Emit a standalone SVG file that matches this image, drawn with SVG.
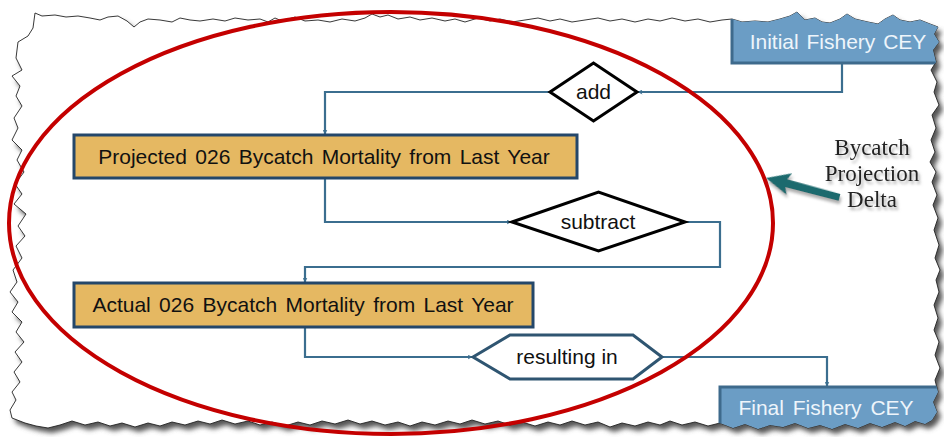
<svg xmlns="http://www.w3.org/2000/svg" width="944" height="437" viewBox="0 0 944 437">
<style>
.conn{fill:none;stroke:#3b6e8f;stroke-width:2.2}
.gold{fill:#e5b862;stroke:#24476a;stroke-width:3}
.blue{fill:#6b9dc5;stroke:#3e6a8c;stroke-width:3}
.dia{fill:#fff;stroke:#000;stroke-width:3;stroke-linejoin:miter}
.hex{fill:#fff;stroke:#2f5571;stroke-width:3}
.t{font-family:"Liberation Sans",Arial,sans-serif;font-size:21px;fill:#111;text-anchor:middle}
.tw{font-family:"Liberation Sans",Arial,sans-serif;font-size:21px;fill:#eef5fb;text-anchor:middle}
.serif{font-family:"Liberation Serif","Times New Roman",serif;font-size:23px;fill:#222;text-anchor:middle}
</style>
<defs>
<path id="paper" d="M35,13 L42,16 55,15 66,17 78,16 90,18 100,20 108,17 118,16 127,21 134,27 140,22 148,19 160,20 172,22 180,18 190,20 200,21 213,19 225,21 235,18 248,20 260,19 268,22 275,18 282,21 295,17 305,21 318,20 330,22 342,19 355,21 365,18 372,14 380,17 388,15 398,19 410,17 420,20 432,18 445,21 455,19 465,22 478,18 490,21 500,19 512,22 525,20 538,18 550,21 560,19 572,22 585,20 598,18 610,21 622,19 635,22 648,19 660,21 672,18 685,21 698,19 710,22 722,20 732,19 742,22 755,21 768,22 780,19 790,16 797,12 805,20 815,18 822,22 830,23 840,19 847,14 855,19 868,22 878,24 885,19 893,15 900,20 910,22 920,20 930,24 938,27 934,34 939,42 933,50 936,62 931,70 937,82 934,92 939,105 932,115 936,128 931,140 935,152 930,162 936,172 932,182 937,195 933,205 938,218 934,230 939,245 935,258 940,270 936,280 939,292 934,305 938,318 934,330 939,342 935,355 940,368 935,380 938,392 933,402 937,412 932,420 925,424 915,421 905,426 895,422 882,427 870,423 858,428 845,424 832,429 820,425 808,428 795,423 783,427 770,425 758,429 745,424 733,428 720,423 708,426 695,422 682,425 670,421 660,425 648,422 635,426 622,423 610,427 598,422 585,425 572,421 560,425 548,422 535,426 522,422 510,425 498,421 485,424 472,420 460,424 448,421 435,425 422,422 410,426 398,422 385,425 372,421 360,424 348,420 335,424 322,421 310,425 298,422 285,426 272,422 260,425 248,421 235,424 222,420 210,424 198,421 185,425 172,422 160,426 148,423 135,427 122,423 110,426 98,422 85,425 72,421 60,425 48,428 36,426 25,423 12,418 10,410 16,400 12,392 20,382 14,372 22,362 15,352 24,342 16,332 22,322 12,312 18,302 10,292 17,282 13,270 22,258 16,246 25,236 18,226 26,214 14,204 22,194 15,184 24,172 17,160 22,150 12,140 18,128 14,118 22,106 16,96 20,86 12,76 22,70 16,58 18,42 28,36 33,28 Z"/>
<clipPath id="clip"><use href="#paper"/></clipPath>
<filter id="blur" x="-5%" y="-5%" width="110%" height="110%"><feGaussianBlur stdDeviation="2.5"/></filter>
<filter id="tsh" x="-20%" y="-20%" width="140%" height="140%"><feDropShadow dx="2" dy="3" stdDeviation="1.5" flood-color="#777" flood-opacity="0.6"/></filter>
<marker id="arr" viewBox="0 0 10 10" refX="9" refY="5" markerWidth="5" markerHeight="5" orient="auto" markerUnits="userSpaceOnUse">
<path d="M0,0 L10,5 L0,10 L3,5 Z" fill="#3b6e8f"/>
</marker>
</defs>
<rect width="944" height="437" fill="#fff"/>
<g id="paper-sheet">
<use href="#paper" transform="translate(4,5)" fill="#555" filter="url(#blur)"/>
<use href="#paper" fill="#fff" stroke="#222" stroke-width="0.9"/>
</g>
<g id="connectors">
<path class="conn" d="M842,63 V92 H638" marker-end="url(#arr)"/>
<path class="conn" d="M550,92 H325 V134" marker-end="url(#arr)"/>
<path class="conn" d="M325,178 V222 H511" marker-end="url(#arr)"/>
<path class="conn" d="M685,222 H720 V267 H305 V282" marker-end="url(#arr)"/>
<path class="conn" d="M305,327 V357 H472" marker-end="url(#arr)"/>
<path class="conn" d="M662,357 H827 V386" marker-end="url(#arr)"/>
</g>
<g id="initial" clip-path="url(#clip)">
<rect class="blue" x="732" y="5" width="230" height="58"/>
<text class="tw" x="838" y="49" word-spacing="2">Initial Fishery CEY</text>
</g>
<g id="add">
<polygon class="dia" points="550,92 593.5,63 637,92 593.5,121"/>
<text class="t" x="593.5" y="99">add</text>
</g>
<g id="projected">
<rect class="gold" x="74" y="135" width="503" height="43"/>
<text class="t" x="324" y="164" word-spacing="2.5">Projected 026 Bycatch Mortality from Last Year</text>
</g>
<g id="subtract">
<polygon class="dia" points="512,222 598.5,192 685,222 598.5,251"/>
<text class="t" x="598" y="229">subtract</text>
</g>
<g id="actual">
<rect class="gold" x="74" y="283" width="459" height="44"/>
<text class="t" x="303" y="312" word-spacing="2.5">Actual 026 Bycatch Mortality from Last Year</text>
</g>
<g id="resulting">
<polygon class="hex" points="473,357 510,335 633,335 662,357 633,379 510,379"/>
<text class="t" x="567" y="364">resulting in</text>
</g>
<g id="final" clip-path="url(#clip)">
<rect class="blue" x="720" y="387" width="230" height="60"/>
<text class="tw" x="826" y="415" word-spacing="3">Final Fishery CEY</text>
</g>
<g id="ellipse">
<ellipse cx="391" cy="223" rx="382" ry="211" fill="none" stroke="#c40000" stroke-width="4"/>
</g>
<g id="delta-label">
<g filter="url(#tsh)">
<text class="serif" x="872" y="155">Bycatch</text>
<text class="serif" x="872" y="181">Projection</text>
<text class="serif" x="872" y="207">Delta</text>
</g>
<g transform="translate(766,178) rotate(14.4)" filter="url(#tsh)">
<polygon points="0,0 24,-11 21,-4 76,-3 76,4 21,4 24,11" fill="#1f6b6e"/>
</g>
</g>
</svg>
